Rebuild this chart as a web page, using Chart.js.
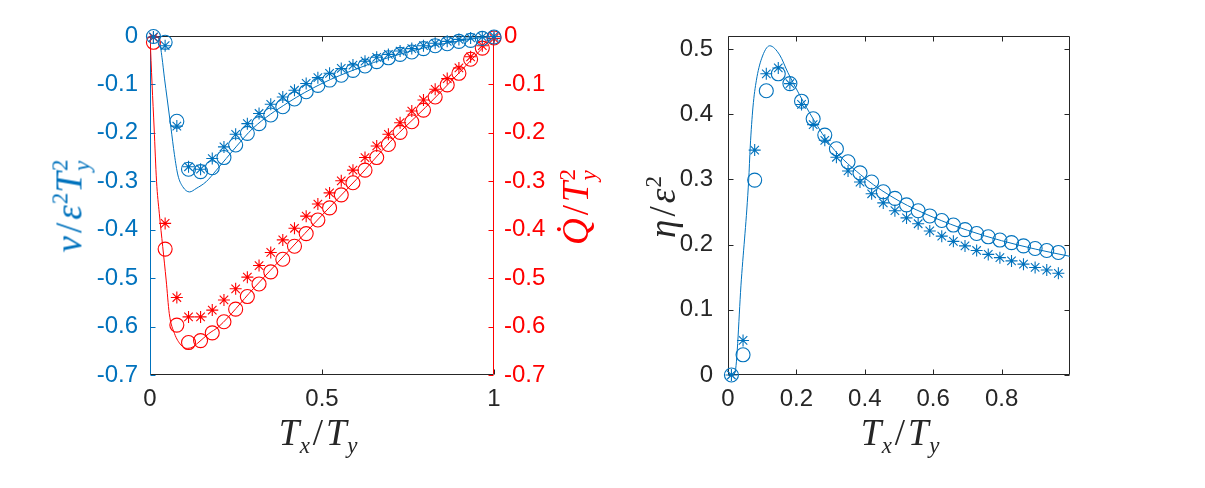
<!DOCTYPE html>
<html><head><meta charset="utf-8">
<script src="https://cdn.jsdelivr.net/npm/chart.js@4.4.1/dist/chart.umd.min.js"></script>
<style>
html,body{margin:0;padding:0;background:#fff;}
#wrap{position:relative;width:1205px;height:488px;overflow:hidden;background:#fff;}
#c1{position:absolute;left:0;top:0;}
#c2{position:absolute;left:620px;top:0;}
.lbl{position:absolute;font-family:"Liberation Serif","DejaVu Serif",serif;font-style:italic;font-size:37px;white-space:nowrap;line-height:1;}
.rot{transform:translate(-50%,-50%) rotate(-90deg);}
.hor{transform:translate(-50%,-50%);}
.up{font-style:normal;margin:0 0.08em;}
.ss{display:inline-flex;flex-direction:column;font-size:0.62em;vertical-align:middle;line-height:0.95;position:relative;top:-0.05em;margin-left:0.05em;}
.ss .up{margin:0;}
.sp{font-size:0.62em;vertical-align:0.6em;font-style:normal;margin-left:0.05em;}
.sb{font-size:0.62em;vertical-align:-0.35em;margin-left:0.02em;}
</style></head>
<body>
<div id="wrap">
<canvas id="c1" width="620" height="488"></canvas>
<canvas id="c2" width="585" height="488"></canvas>
<div class="lbl rot" style="left:72px;top:206px;color:#0072BD"><i>v</i><span class="up">/</span><i>ε</i><span class="sp">2</span><i>T</i><span class="ss"><span class="up">2</span><span>y</span></span></div>
<div class="lbl rot" style="left:579px;top:207px;color:#FF0000"><i>Q̇</i><span class="up">/</span><i>T</i><span class="ss"><span class="up">2</span><span>y</span></span></div>
<div class="lbl rot" style="left:662px;top:207px;color:#262626"><i>η</i><span class="up">/</span><i>ε</i><span class="sp">2</span></div>
<div class="lbl hor" style="left:318px;top:436px;color:#262626"><i>T</i><span class="sb">x</span><span class="up">/</span><i>T</i><span class="sb">y</span></div>
<div class="lbl hor" style="left:900px;top:436px;color:#262626"><i>T</i><span class="sb">x</span><span class="up">/</span><i>T</i><span class="sb">y</span></div>
</div>
<script>
// ---------- data ----------
const TX = [0.010, 0.044, 0.078, 0.112, 0.147, 0.181, 0.215, 0.249, 0.283, 0.317,
            0.351, 0.386, 0.420, 0.454, 0.488, 0.522, 0.556, 0.590, 0.625, 0.659,
            0.693, 0.727, 0.761, 0.795, 0.829, 0.864, 0.898, 0.932, 0.966, 1.000];

const V_STAR = [-0.002, -0.020, -0.186, -0.270, -0.275, -0.253, -0.229, -0.203, -0.181, -0.160,
                -0.141, -0.126, -0.112, -0.098, -0.086, -0.077, -0.067, -0.060, -0.052, -0.044,
                -0.038, -0.031, -0.026, -0.020, -0.015, -0.011, -0.007, -0.004, -0.002, -0.001];
const V_CIRC = [-0.001, -0.013, -0.176, -0.275, -0.280, -0.272, -0.251, -0.225, -0.201, -0.181,
                -0.163, -0.146, -0.130, -0.115, -0.102, -0.091, -0.081, -0.071, -0.062, -0.053,
                -0.045, -0.038, -0.033, -0.026, -0.020, -0.016, -0.011, -0.009, -0.005, -0.002];
const V_LINE_X = [0, 0.015, 0.022, 0.027, 0.035, 0.042, 0.050, 0.061, 0.071, 0.081, 0.095, 0.115,
                  0.134, 0.163, 0.193, 0.25, 0.3, 0.4, 0.5, 0.6, 0.7, 0.8, 0.9, 1.0];
const V_LINE_Y = [0, -0.001, -0.003, -0.008, -0.045, -0.087, -0.130, -0.190, -0.245, -0.287, -0.311, -0.322,
                  -0.315, -0.301, -0.277, -0.229, -0.190, -0.138, -0.098, -0.068, -0.043, -0.024, -0.010, 0];

const Q_STAR = [-0.003, -0.387, -0.540, -0.580, -0.580, -0.566, -0.545, -0.522, -0.498, -0.474,
                -0.447, -0.421, -0.397, -0.372, -0.347, -0.324, -0.299, -0.277, -0.251, -0.227,
                -0.203, -0.179, -0.155, -0.132, -0.110, -0.088, -0.066, -0.043, -0.020, -0.005];
const Q_CIRC = [-0.013, -0.440, -0.597, -0.633, -0.629, -0.613, -0.590, -0.564, -0.538, -0.512,
                -0.487, -0.461, -0.434, -0.408, -0.380, -0.355, -0.328, -0.303, -0.277, -0.251,
                -0.224, -0.199, -0.177, -0.153, -0.126, -0.101, -0.077, -0.048, -0.025, -0.004];
const Q_LINE_X = [0, 0.006, 0.012, 0.019, 0.027, 0.037, 0.047, 0.056, 0.071, 0.090, 0.105, 0.122,
                  0.139, 0.17, 0.2, 0.3, 0.4, 0.5, 0.6, 0.7, 0.8, 0.9, 0.95, 1.0];
const Q_LINE_Y = [0, -0.10, -0.19, -0.30, -0.366, -0.435, -0.504, -0.573, -0.614, -0.638, -0.645, -0.643,
                  -0.634, -0.615, -0.600, -0.522, -0.446, -0.370, -0.296, -0.217, -0.148, -0.075, -0.037, 0];

const ETA_STAR = [0.000, 0.053, 0.345, 0.462, 0.471, 0.447, 0.415, 0.384, 0.360, 0.334,
                  0.313, 0.296, 0.278, 0.264, 0.252, 0.241, 0.232, 0.221, 0.213, 0.205,
                  0.198, 0.191, 0.185, 0.180, 0.175, 0.170, 0.165, 0.161, 0.156];
const ETA_CIRC = [0.000, 0.031, 0.299, 0.436, 0.462, 0.447, 0.420, 0.393, 0.368, 0.347,
                  0.327, 0.310, 0.296, 0.281, 0.271, 0.261, 0.252, 0.244, 0.237, 0.230,
                  0.223, 0.217, 0.212, 0.207, 0.203, 0.198, 0.194, 0.191, 0.188];
const ETA_LINE_X = [0.010, 0.020, 0.039, 0.0605, 0.065, 0.073, 0.083, 0.098, 0.122, 0.151, 0.175,
                    0.21, 0.25, 0.3, 0.4, 0.5, 0.6, 0.7, 0.8, 0.9, 1.0];
const ETA_LINE_Y = [0, 0.003, 0.146, 0.299, 0.350, 0.411, 0.452, 0.485, 0.505, 0.491, 0.464,
                    0.429, 0.392, 0.352, 0.302, 0.267, 0.242, 0.222, 0.206, 0.193, 0.182];

const LEFT_Y_TICKS = [0, -0.1, -0.2, -0.3, -0.4, -0.5, -0.6, -0.7];
const LEFT_X_TICKS = [0, 0.5, 1];
const RIGHT_Y_TICKS = [0, 0.1, 0.2, 0.3, 0.4, 0.5];
const RIGHT_X_TICKS = [0, 0.2, 0.4, 0.6, 0.8];

// ---------- helpers ----------
const BLUE = '#0072BD', RED = '#FF0000', DARK = '#262626';
const pts = (xs, ys) => ys.map((y, i) => ({x: xs[i], y}));
const fmt = v => { const r = Math.round(v * 10) / 10; if (r === 0) return '0'; return (r < 0 ? '-' : '') + String(Math.abs(r)); };
const setTicks = list => (scale) => { scale.ticks = list.map(v => ({value: v})); };
const tickFont = {family: '"Liberation Sans", Arial, sans-serif', size: 24};

const frameTicks = {
  id: 'frameTicks',
  beforeDatasetsDraw(chart, args, o) {
    const {ctx, chartArea: a} = chart;
    const L = 5;
    const l = Math.round(a.left) + 0.5, r = Math.round(a.right) - 0.5;
    const t = Math.round(a.top) + 0.5, b = Math.round(a.bottom) - 0.5;
    ctx.save();
    ctx.lineWidth = 1;
    const seg = (c, x1, y1, x2, y2) => { ctx.strokeStyle = c; ctx.beginPath(); ctx.moveTo(x1, y1); ctx.lineTo(x2, y2); ctx.stroke(); };
    const xs = chart.scales.x;
    xs.ticks.forEach(tk => { const p = Math.round(xs.getPixelForValue(tk.value)) + 0.5; seg(o.bottom, p, b, p, b - L); seg(o.top, p, t, p, t + L); });
    const yl = chart.scales[o.leftScale], yr = chart.scales[o.rightScale];
    yl.ticks.forEach(tk => { const p = Math.round(yl.getPixelForValue(tk.value)) + 0.5; seg(o.left, l, p, l + L, p); });
    yr.ticks.forEach(tk => { const p = Math.round(yr.getPixelForValue(tk.value)) + 0.5; seg(o.right, r, p, r - L, p); });
    seg(o.top, l, t, r, t); seg(o.bottom, l, b, r, b);
    seg(o.left, l, t, l, b); seg(o.right, r, t, r, b);
    ctx.restore();
  }
};

const markerSet = (data, color, style, yAxisID) => ({
  data, yAxisID, showLine: false, pointStyle: style,
  pointRadius: style === 'circle' ? 7 : 6,
  pointBorderColor: color, pointBackgroundColor: 'rgba(0,0,0,0)', pointBorderWidth: 1.1,
  borderColor: color, clip: false, order: 1
});
const lineSet = (data, color, yAxisID) => ({
  data, yAxisID, showLine: true, pointRadius: 0, borderColor: color, borderWidth: 1,
  cubicInterpolationMode: 'monotone', fill: false, order: 2
});

const common = {
  responsive: false, animation: false, events: [],
  plugins: {legend: {display: false}, tooltip: {enabled: false}}
};

// ---------- left chart ----------
new Chart(document.getElementById('c1'), {
  type: 'scatter',
  data: {datasets: [
    lineSet(pts(V_LINE_X, V_LINE_Y), BLUE, 'y'),
    lineSet(pts(Q_LINE_X, Q_LINE_Y), RED, 'y2'),
    markerSet(pts(TX, V_CIRC), BLUE, 'circle', 'y'),
    markerSet(pts(TX, V_STAR), BLUE, 'star', 'y'),
    markerSet(pts(TX, Q_CIRC), RED, 'circle', 'y2'),
    markerSet(pts(TX, Q_STAR), RED, 'star', 'y2')
  ]},
  options: Object.assign({}, common, {
    layout: {padding: {top: 36, left: 0, right: 0, bottom: 0}},
    plugins: Object.assign({}, common.plugins, {frameTicks: {top: DARK, bottom: DARK, left: BLUE, right: RED, leftScale: 'y', rightScale: 'y2'}}),
    scales: {
      x: {type: 'linear', min: 0, max: 1, afterBuildTicks: setTicks(LEFT_X_TICKS), afterFit: s => { s.height = 113; },
          grid: {display: false, drawTicks: false}, border: {display: false},
          ticks: {color: DARK, font: tickFont, padding: 10, maxRotation: 0, callback: v => fmt(v)}},
      y: {type: 'linear', position: 'left', min: -0.7, max: 0, afterBuildTicks: setTicks(LEFT_Y_TICKS), afterFit: s => { s.width = 150; },
          grid: {display: false, drawTicks: false}, border: {display: false},
          ticks: {color: BLUE, font: tickFont, padding: 12, callback: v => fmt(v)}},
      y2: {type: 'linear', position: 'right', min: -0.7, max: 0, afterBuildTicks: setTicks(LEFT_Y_TICKS), afterFit: s => { s.width = 126; },
          grid: {display: false, drawTicks: false}, border: {display: false},
          ticks: {color: RED, font: tickFont, padding: 10, callback: v => fmt(v)}}
    }
  }),
  plugins: [frameTicks]
});

// ---------- right chart ----------
const TX29 = TX.slice(0, ETA_STAR.length);
new Chart(document.getElementById('c2'), {
  type: 'scatter',
  data: {datasets: [
    lineSet(pts(ETA_LINE_X, ETA_LINE_Y), BLUE, 'y'),
    markerSet(pts(TX29, ETA_CIRC), BLUE, 'circle', 'y'),
    markerSet(pts(TX29, ETA_STAR), BLUE, 'star', 'y')
  ]},
  options: Object.assign({}, common, {
    layout: {padding: {top: 36, left: 0, right: 135, bottom: 0}},
    plugins: Object.assign({}, common.plugins, {frameTicks: {top: DARK, bottom: DARK, left: DARK, right: DARK, leftScale: 'y', rightScale: 'y'}}),
    scales: {
      x: {type: 'linear', min: 0, max: 1, afterBuildTicks: setTicks(RIGHT_X_TICKS), afterFit: s => { s.height = 113; },
          grid: {display: false, drawTicks: false}, border: {display: false},
          ticks: {color: DARK, font: tickFont, padding: 10, maxRotation: 0, callback: v => fmt(v)}},
      y: {type: 'linear', position: 'left', min: 0, max: 0.52, afterBuildTicks: setTicks(RIGHT_Y_TICKS), afterFit: s => { s.width = 108; },
          grid: {display: false, drawTicks: false}, border: {display: false},
          ticks: {color: DARK, font: tickFont, padding: 15, callback: v => fmt(v)}}
    }
  }),
  plugins: [frameTicks]
});
</script>
</body></html>
